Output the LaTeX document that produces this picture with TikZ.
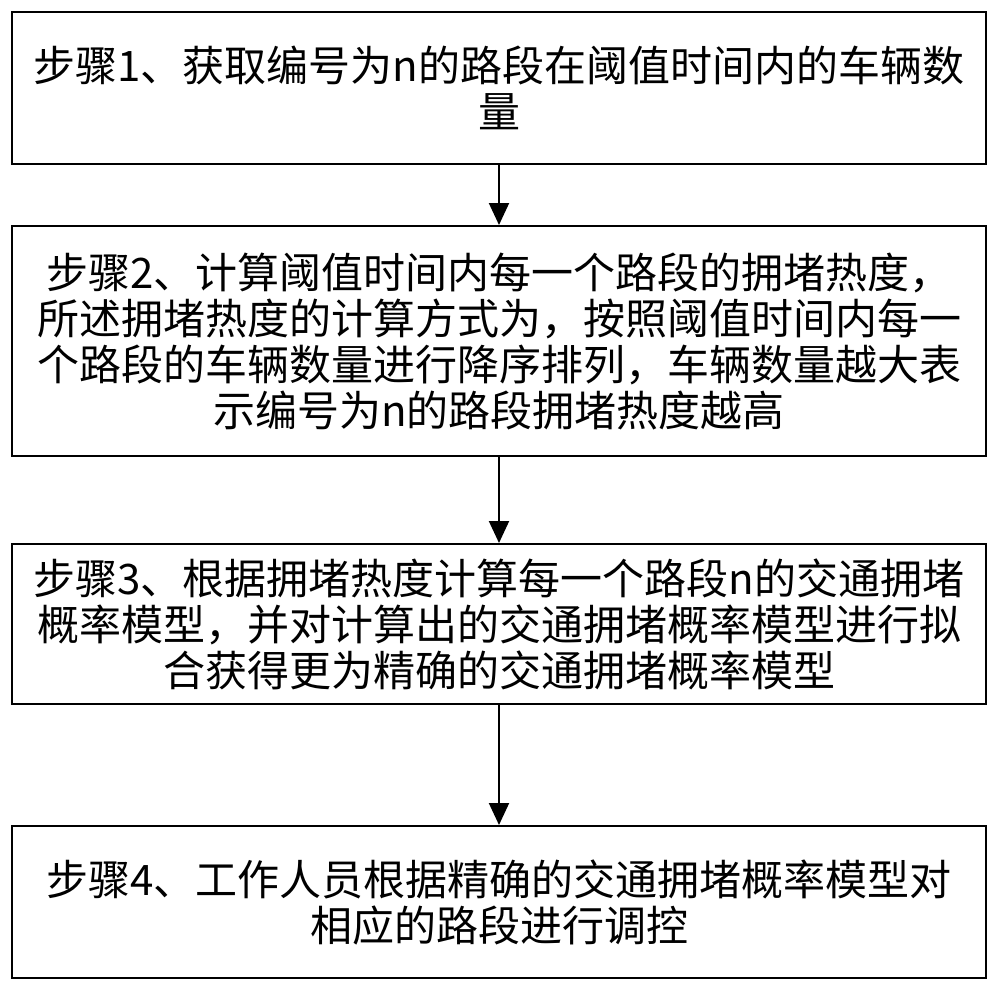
\documentclass[tikz,border=0pt]{standalone}
\usepackage{fontspec}
\newfontfamily\cjk{Noto Sans CJK SC}
\usetikzlibrary{arrows.meta}
\begin{document}
\begin{tikzpicture}[x=1pt,y=-1pt,
  stepbox/.style={draw,line width=2pt,minimum width=974pt,align=center,font=\cjk\fontsize{42}{46}\selectfont,inner sep=0pt},
  arr/.style={line width=2pt,-{Triangle[length=22pt,width=20pt]}}]
\useasboundingbox (0,0) rectangle (1000,993);
\node[stepbox,minimum height=152pt] (b1) at (499,88) {步骤1、获取编号为n的路段在阈值时间内的车辆数\\量};
\node[stepbox,minimum height=230pt] (b2) at (499,341) {步骤2、计算阈值时间内每一个路段的拥堵热度，\\所述拥堵热度的计算方式为，按照阈值时间内每一\\个路段的车辆数量进行降序排列，车辆数量越大表\\示编号为n的路段拥堵热度越高};
\node[stepbox,minimum height=160pt] (b3) at (499,624) {步骤3、根据拥堵热度计算每一个路段n的交通拥堵\\概率模型，并对计算出的交通拥堵概率模型进行拟\\合获得更为精确的交通拥堵概率模型};
\node[stepbox,minimum height=152pt] (b4) at (499,902) {步骤4、工作人员根据精确的交通拥堵概率模型对\\相应的路段进行调控};
\draw[arr] (b1) -- (b2);
\draw[arr] (b2) -- (b3);
\draw[arr] (b3) -- (b4);
\end{tikzpicture}
\end{document}
